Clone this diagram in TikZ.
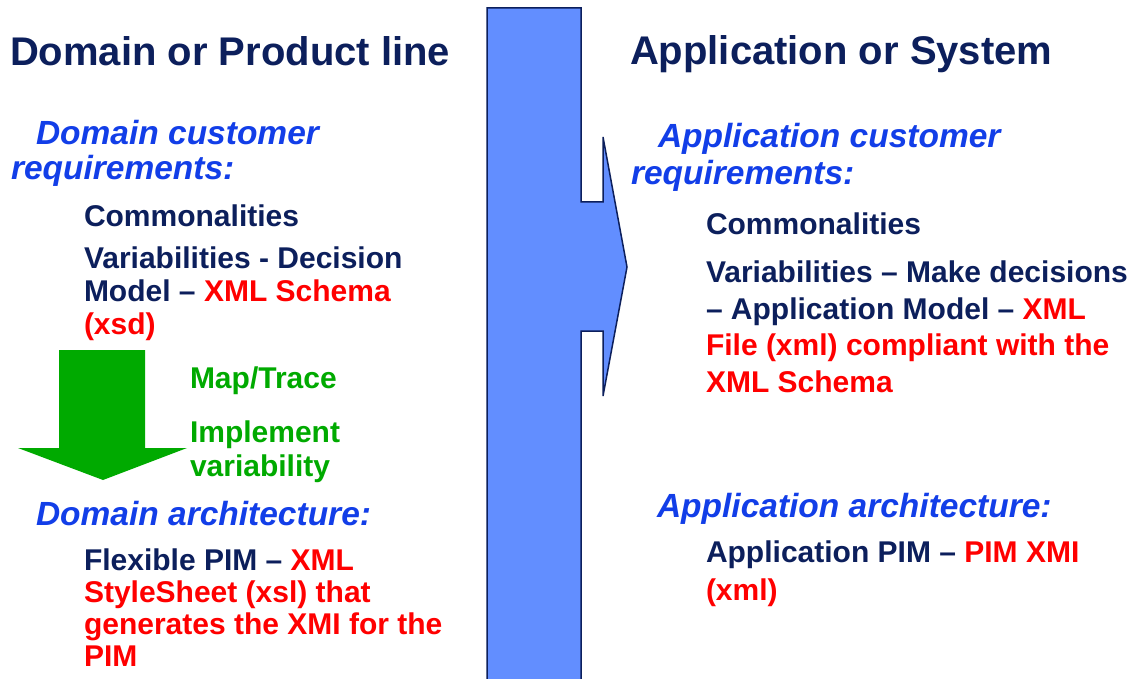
\documentclass[tikz,border=0pt]{standalone}
\usepackage{fontspec}
\setmainfont{Liberation Sans}
\definecolor{navy}{RGB}{12,31,92}
\definecolor{hiblue}{RGB}{18,62,232}
\definecolor{hired}{RGB}{255,0,0}
\definecolor{higreen}{RGB}{0,170,0}
\definecolor{shaftfill}{RGB}{98,142,255}
\begin{document}
\begin{tikzpicture}[x=1pt,y=-1pt,
  every node/.style={inner sep=0pt,outer sep=0pt,anchor=base west,align=left},
  title/.style={text=navy,font=\fontsize{40}{48}\bfseries},
  subhead/.style={text=hiblue,font=\fontsize{33.5}{#1}\bfseries\itshape},
  body/.style={text=navy,font=\fontsize{30}{#1}\bfseries},
  note/.style={text=higreen,font=\fontsize{30}{#1}\bfseries}]
\useasboundingbox[fill=white] (0,0) rectangle (1135,679);
\begin{scope}
\clip (0,0) rectangle (1135,679);
\draw[navy,line width=1.5pt,fill=shaftfill] (487,8) -- (581,8) -- (581,202) -- (603,202) -- (603,137) -- (627,267) -- (603,396) -- (603,331) -- (581,331) -- (581,700) -- (487,700) -- cycle;
\end{scope}
\fill[higreen] (59,350) -- (145,350) -- (145,448) -- (187,448) -- (103,480) -- (18,448) -- (59,448) -- cycle;

\node[title] (domtitle) at (10,66) {Domain or Product line};
\node[subhead=35] (domreq) at (11,180) {\hspace*{25pt}Domain customer\\requirements:};
\node[body=33] (domcom) at (84,226) {Commonalities};
\node[body=33] (domvar) at (84,334) {Variabilities - Decision\\Model -- {\color{hired}XML Schema}\\{\color{hired}(xsd)}};
\node[note=34] (maptrace) at (190,388) {Map/Trace};
\node[note=34] (implvar) at (190,476) {Implement\\variability};
\node[subhead=35] (domarch) at (36,525) {Domain architecture:};
\node[body=32] (dompim) at (84,666) {Flexible PIM -- {\color{hired}XML}\\{\color{hired}StyleSheet (xsl) that}\\{\color{hired}generates the XMI for the}\\{\color{hired}PIM}};

\node[title] (apptitle) at (630,65) {Application or System};
\node[subhead=37] (appreq) at (631,185) {\hspace*{27pt}Application customer\\requirements:};
\node[body=36.5] (appcom) at (706,235) {Commonalities};
\node[body=36.5] (appvar) at (706,392) {Variabilities -- Make decisions\\-- Application Model -- {\color{hired}XML}\\{\color{hired}File (xml) compliant with the}\\{\color{hired}XML Schema}};
\node[subhead=37] (apparch) at (657,517) {Application architecture:};
\node[body=38] (apppim) at (706,600) {Application PIM -- {\color{hired}PIM XMI}\\{\color{hired}(xml)}};
\end{tikzpicture}
\end{document}
